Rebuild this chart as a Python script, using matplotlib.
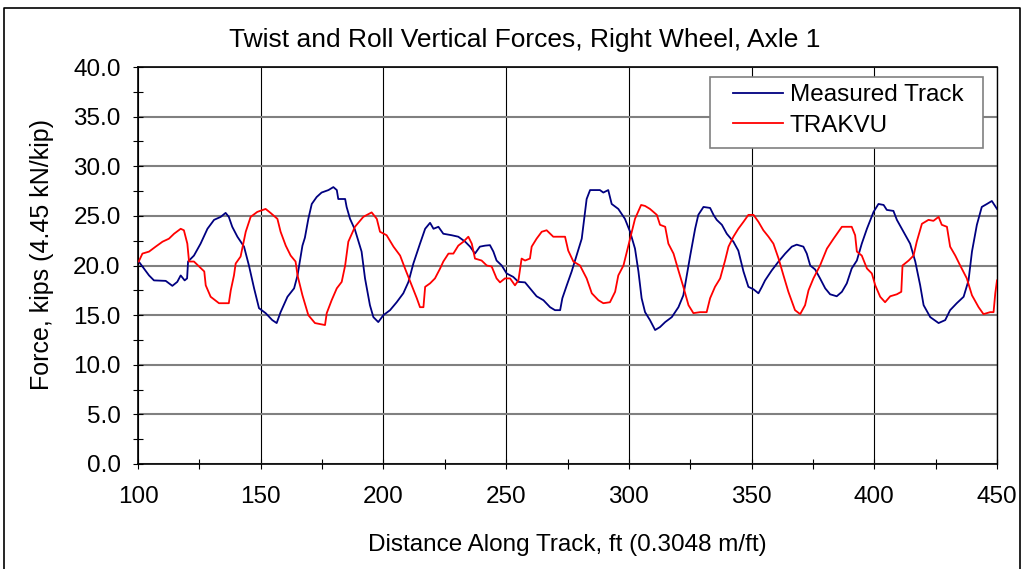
import matplotlib.pyplot as plt
from matplotlib.lines import Line2D
from matplotlib.patches import Rectangle
from matplotlib.ticker import MultipleLocator, FormatStrFormatter

plt.rcParams['font.family'] = ['Liberation Sans', 'DejaVu Sans']

# Measured track (distance ft, force kips)
meas_x = [100.3, 102.4, 104.5, 106.5, 111.3, 114.0, 116.0, 117.4, 119.0, 120.0,
          120.4, 122.8, 125.5, 128.3, 131.0, 133.7, 135.7, 137.0, 138.4, 140.5,
          143.2, 145.2, 147.3, 149.3, 152.0, 154.7, 156.5, 158.1, 160.9, 163.6,
          165.0, 167.0, 168.0, 169.4, 170.8, 172.8, 174.8, 177.6, 179.6, 181.0,
          181.6, 184.4, 185.0, 186.4, 188.4, 191.1, 192.5, 194.5, 195.9, 197.9,
          200.0, 202.7, 205.4, 208.1, 210.2, 212.2, 214.9, 217.0, 219.0, 220.4,
          222.4, 224.4, 227.8, 230.5, 233.3, 235.3, 237.3, 239.3, 241.4, 243.4,
          244.8, 246.1, 248.2, 250.2, 252.9, 255.0, 257.7, 260.4, 262.4, 265.2,
          267.9, 269.9, 272.0, 272.9, 274.7, 276.7, 278.7, 280.8, 282.8, 284.2,
          288.2, 289.6, 291.6, 293.0, 295.7, 298.4, 300.5, 302.5, 303.9, 305.2,
          306.6, 308.6, 310.7, 312.7, 314.8, 317.5, 320.2, 322.2, 323.6, 325.0,
          327.0, 328.3, 330.4, 333.1, 334.5, 335.8, 337.9, 339.9, 342.6, 344.6,
          346.7, 348.7, 350.8, 352.8, 354.2, 355.5, 358.2, 361.0, 363.7, 366.4,
          368.4, 371.1, 372.5, 373.9, 375.9, 377.9, 380.0, 382.0, 384.7, 386.8,
          388.8, 390.8, 392.9, 394.9, 397.0, 399.7, 401.7, 403.8, 405.1, 407.8,
          409.2, 411.9, 414.6, 416.7, 418.7, 420.1, 422.8, 426.2, 428.9, 430.9,
          433.6, 436.4, 438.4, 439.8, 441.8, 443.8, 445.9, 447.9, 450.0]
meas_y = [20.4, 19.7, 19.0, 18.5, 18.45, 17.95, 18.35, 19.0, 18.5, 18.7,
          20.4, 21.0, 22.2, 23.7, 24.6, 24.9, 25.3, 24.9, 23.9, 22.9,
          21.9, 20.0, 17.7, 15.7, 15.2, 14.5, 14.2, 15.3, 16.85, 17.7,
          19.0, 22.0, 22.8, 24.7, 26.2, 26.9, 27.35, 27.6, 27.9, 27.6,
          26.7, 26.7, 25.9, 24.7, 23.6, 21.4, 18.7, 16.0, 14.8, 14.3,
          15.0, 15.5, 16.3, 17.2, 18.35, 20.2, 22.2, 23.7, 24.3, 23.7,
          23.9, 23.2, 23.05, 22.9, 22.4, 21.9, 21.2, 21.9, 22.0, 22.05,
          21.4, 20.5, 20.0, 19.2, 18.85, 18.35, 18.3, 17.5, 16.9, 16.5,
          15.8, 15.5, 15.5, 16.7, 18.0, 19.4, 21.0, 22.7, 26.7, 27.6,
          27.6, 27.35, 27.6, 26.2, 25.7, 24.7, 23.4, 21.7, 19.4, 16.7,
          15.3, 14.5, 13.5, 13.8, 14.3, 14.8, 15.8, 17.0, 19.0, 21.0,
          23.7, 25.1, 25.9, 25.8, 25.1, 24.6, 24.1, 23.2, 22.4, 21.5,
          19.4, 17.85, 17.6, 17.2, 17.85, 18.5, 19.5, 20.4, 21.2, 21.9,
          22.1, 21.9, 21.2, 20.0, 19.6, 18.7, 17.7, 17.1, 16.9, 17.35,
          18.2, 19.7, 20.5, 22.2, 23.7, 25.4, 26.2, 26.1, 25.6, 25.5,
          24.6, 23.4, 22.2, 20.4, 18.0, 16.0, 14.8, 14.2, 14.5, 15.5,
          16.2, 16.85, 18.5, 21.4, 24.1, 25.9, 26.2, 26.5, 25.7]

# TRAKVU model
trak_x = [100.3, 101.8, 104.5, 107.2, 110.0, 112.6, 114.7, 117.4, 118.7, 120.1,
          120.8, 122.8, 124.9, 127.0, 127.6, 129.6, 133.0, 137.0, 137.8, 139.1,
          139.8, 141.8, 143.9, 145.9, 148.6, 152.0, 154.0, 156.8, 158.1, 160.2,
          162.2, 164.2, 165.0, 167.0, 169.4, 172.1, 176.2, 176.9, 178.9, 181.0,
          183.0, 184.4, 185.7, 188.4, 191.8, 195.2, 197.3, 198.6, 201.3, 204.1,
          206.8, 208.8, 211.5, 213.6, 214.9, 216.3, 217.0, 219.0, 221.0, 223.1,
          224.4, 226.5, 228.5, 230.5, 232.6, 234.6, 236.0, 237.3, 240.0, 242.1,
          244.1, 246.1, 247.5, 249.5, 251.6, 253.6, 255.0, 256.3, 257.7, 259.7,
          260.4, 262.4, 264.5, 266.5, 269.2, 272.0, 274.0, 275.3, 277.4, 280.1,
          282.8, 284.9, 287.6, 289.6, 292.3, 294.4, 295.7, 297.8, 299.8, 302.5,
          305.0, 306.6, 308.6, 311.4, 312.7, 314.8, 316.1, 318.2, 320.2, 322.2,
          324.3, 326.3, 329.0, 331.7, 333.1, 335.1, 337.2, 339.2, 340.6, 342.6,
          344.6, 346.7, 348.7, 350.8, 352.8, 354.8, 356.9, 358.9, 361.0, 363.0,
          365.0, 367.7, 369.8, 371.8, 373.2, 375.2, 377.3, 377.9, 380.7, 383.4,
          386.8, 390.8, 392.2, 392.9, 394.9, 397.0, 399.0, 400.4, 402.4, 404.4,
          406.5, 409.2, 411.0, 411.5, 414.0, 416.0, 417.3, 419.4, 422.1, 424.1,
          426.2, 427.5, 429.6, 430.9, 433.0, 435.0, 437.7, 439.8, 442.5, 444.5,
          447.2, 448.6, 449.3, 450.0]
trak_y = [20.4, 21.2, 21.4, 21.9, 22.4, 22.7, 23.2, 23.7, 23.55, 22.2,
          20.4, 20.4, 19.9, 19.4, 18.0, 16.85, 16.2, 16.2, 17.5, 19.0,
          20.2, 20.9, 23.4, 24.9, 25.4, 25.7, 25.3, 24.7, 23.4, 22.0,
          21.0, 20.4, 19.0, 17.0, 15.0, 14.2, 14.0, 15.2, 16.5, 17.7,
          18.35, 20.0, 22.4, 23.9, 24.9, 25.35, 24.7, 23.4, 23.05, 21.9,
          21.0, 19.7, 18.0, 16.7, 15.8, 15.8, 17.85, 18.2, 18.7, 19.7,
          20.4, 21.2, 21.2, 22.0, 22.4, 22.9, 22.2, 20.7, 20.5, 20.0,
          19.9, 18.7, 18.3, 18.7, 18.7, 18.0, 18.5, 20.7, 20.5, 20.7,
          21.9, 22.7, 23.4, 23.55, 22.9, 22.9, 22.9, 21.5, 20.4, 20.0,
          18.7, 17.2, 16.5, 16.2, 16.3, 17.35, 19.0, 20.0, 22.0, 24.7,
          26.1, 26.0, 25.7, 25.1, 24.1, 23.9, 22.2, 21.2, 19.5, 17.85,
          16.0, 15.2, 15.3, 15.3, 16.7, 17.85, 18.7, 20.5, 21.9, 22.9,
          23.7, 24.4, 25.1, 25.1, 24.4, 23.55, 22.9, 22.2, 20.7, 19.0,
          17.35, 15.5, 15.1, 16.0, 17.5, 18.7, 19.7, 20.0, 21.7, 22.7,
          23.9, 23.9, 23.05, 21.4, 21.0, 19.7, 19.2, 18.0, 16.85, 16.3,
          16.9, 17.1, 17.35, 20.0, 20.5, 21.0, 22.4, 24.2, 24.6, 24.5,
          24.9, 24.1, 23.9, 21.9, 21.0, 20.0, 18.7, 17.0, 15.8, 15.1,
          15.3, 15.3, 17.2, 18.5]

W, H = 1025, 569
fig = plt.figure(figsize=(W / 100, H / 100), dpi=100)
ax = fig.add_axes([138 / W, 105 / H, 859 / W, 397 / H])

ax.plot(meas_x, meas_y, color='#000080', lw=1.3, label='Measured Track', zorder=3)
ax.plot(trak_x, trak_y, color='#ff0000', lw=1.3, label='TRAKVU', zorder=3)

ax.set_xlim(100, 450)
ax.set_ylim(0, 40)
ax.xaxis.set_major_locator(MultipleLocator(50))
ax.xaxis.set_minor_locator(MultipleLocator(25))
ax.yaxis.set_major_locator(MultipleLocator(5))
ax.yaxis.set_minor_locator(MultipleLocator(2.5))
ax.yaxis.set_major_formatter(FormatStrFormatter('%.1f'))

ax.grid(axis='y', which='major', color='#808080', lw=1.5, zorder=1)
ax.grid(axis='x', which='major', color='black', lw=0.8, zorder=1)
ax.tick_params(which='both', direction='inout', width=0.8, labelsize=17.5)
ax.tick_params(which='major', length=7)
ax.tick_params(which='minor', length=7)
ax.tick_params(axis='x', which='major', pad=12)
ax.tick_params(axis='y', which='major', pad=9)

for s in ['left', 'bottom', 'top']:
    ax.spines[s].set_linewidth(1.2)
ax.spines['right'].set_linewidth(1.0)

fig.text(525 / W, 1 - 40 / H, 'Twist and Roll Vertical Forces, Right Wheel, Axle 1',
         fontsize=19, ha='center', va='center')
fig.text(567 / W, 1 - 545 / H, 'Distance Along Track, ft (0.3048 m/ft)',
         fontsize=17.5, ha='center', va='center')
fig.text(42 / W, 1 - 255 / H, 'Force, kips (4.45 kN/kip)',
         fontsize=18, ha='center', va='center', rotation=90)

# legend box drawn separately so its padding matches the original
ax.add_patch(Rectangle(((710 - 138) / 859, (464 - 148) / 397), 273 / 859, 71 / 397,
                       transform=ax.transAxes, facecolor='white', edgecolor='#808080',
                       lw=1.2, zorder=4))
ax.legend(loc='upper left', bbox_to_anchor=((733 - 138) / 859, (464 - 84) / 397),
          fontsize=17.5, frameon=False, handlelength=2.04, handletextpad=0.3,
          borderpad=0, labelspacing=0.36, borderaxespad=0).set_zorder(5)

# outer chart border
bx0, bx1, by1 = 4 / W, 1020 / W, 1 - 8 / H
fig.add_artist(Line2D([bx0, bx0, bx1, bx1], [0, by1, by1, 0], color='black', lw=1.2))

plt.savefig('out.png', dpi=100)
